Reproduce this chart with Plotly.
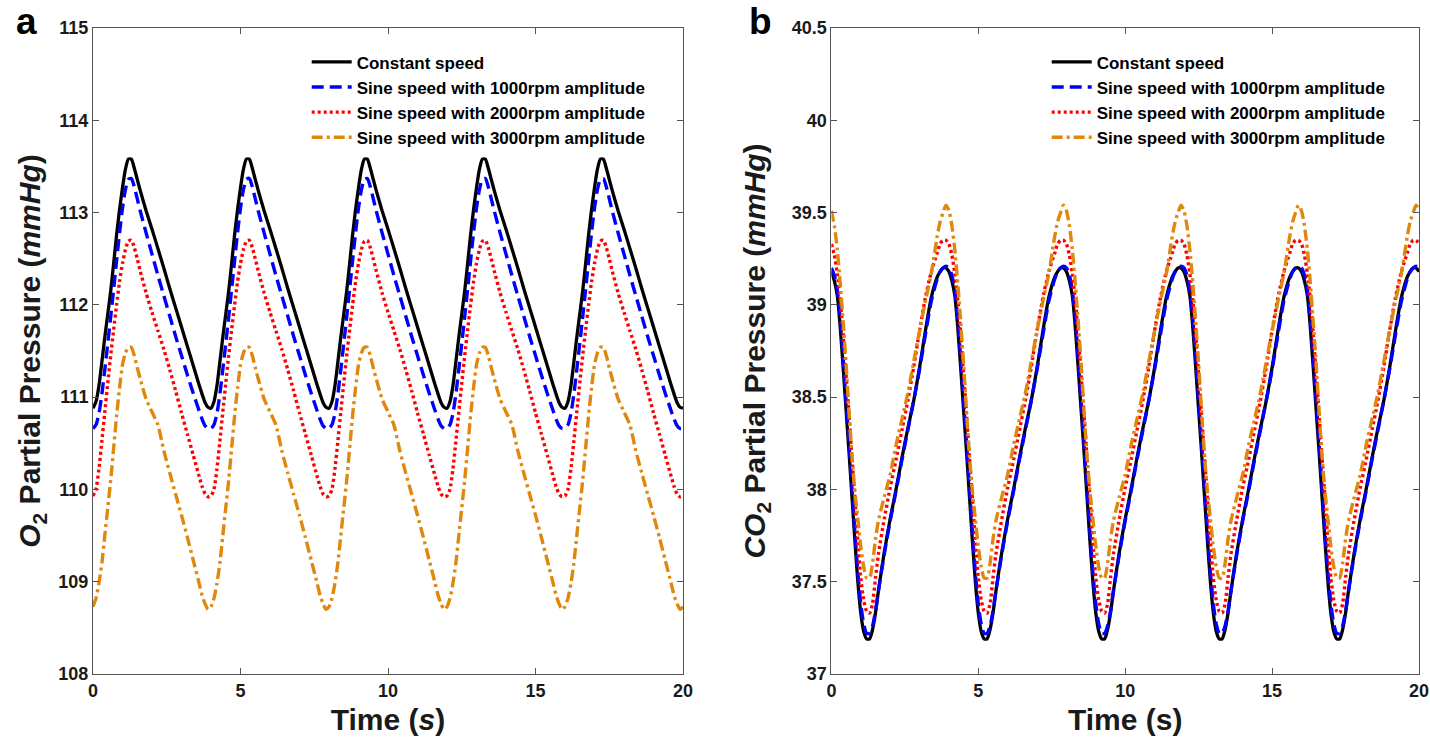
import plotly.graph_objects as go

# ---------------- data ----------------
PERIOD = 4.0          # s, cycle length seen in the picture
CYCLES = 5
# time offsets within one cycle (s)
CYCLE_T = [0.0, 0.1, 0.2, 0.3, 0.4, 0.5, 0.6, 0.7, 0.8, 0.9, 1.0, 1.1, 1.2, 1.3,
           1.4, 1.5, 1.6, 1.8, 2.0, 2.2, 2.4, 2.6, 2.8, 3.0, 3.2, 3.4, 3.6, 3.7,
           3.8, 3.9]

# panel a: O2 partial pressure (mmHg), one cycle
O2_CONST = [110.88, 110.95, 111.12, 111.38, 111.65, 111.90, 112.15, 112.45, 112.76,
            113.03, 113.27, 113.47, 113.58, 113.58, 113.48, 113.36, 113.24, 113.02,
            112.82, 112.61, 112.40, 112.18, 111.97, 111.76, 111.55, 111.34, 111.13,
            111.03, 110.94, 110.89]
O2_1000 = [110.66, 110.70, 110.82, 111.03, 111.30, 111.58, 111.87, 112.17, 112.48,
           112.78, 113.05, 113.25, 113.36, 113.37, 113.28, 113.15, 113.02, 112.78,
           112.55, 112.32, 112.10, 111.88, 111.66, 111.45, 111.24, 111.04, 110.85,
           110.76, 110.69, 110.66]
O2_2000 = [109.93, 110.00, 110.22, 110.52, 110.84, 111.15, 111.45, 111.73, 112.00,
           112.25, 112.45, 112.60, 112.69, 112.70, 112.62, 112.50, 112.37, 112.13,
           111.92, 111.72, 111.52, 111.30, 111.07, 110.83, 110.60, 110.37, 110.14,
           110.03, 109.95, 109.92]
O2_3000 = [108.73, 108.82, 108.98, 109.20, 109.50, 109.80, 110.10, 110.45, 110.80,
           111.10, 111.35, 111.48, 111.54, 111.54, 111.45, 111.32, 111.20, 110.98,
           110.84, 110.70, 110.42, 110.18, 109.95, 109.72, 109.48, 109.23, 108.98,
           108.85, 108.76, 108.70]

# panel b: CO2 partial pressure (mmHg), one cycle
CO2_CONST = [39.18, 39.13, 39.05, 38.88, 38.66, 38.43, 38.20, 37.96, 37.72, 37.50,
             37.33, 37.23, 37.19, 37.19, 37.24, 37.33, 37.45, 37.66, 37.84, 38.00,
             38.17, 38.33, 38.48, 38.66, 38.86, 39.04, 39.15, 39.18, 39.20, 39.20]
CO2_1000 = [39.20, 39.16, 39.08, 38.93, 38.71, 38.48, 38.25, 38.01, 37.77, 37.55,
            37.38, 37.27, 37.22, 37.22, 37.26, 37.34, 37.45, 37.65, 37.83, 37.99,
            38.16, 38.32, 38.48, 38.65, 38.84, 39.02, 39.14, 39.18, 39.20, 39.21]
CO2_2000 = [39.33, 39.27, 39.17, 39.03, 38.84, 38.62, 38.40, 38.17, 37.95, 37.72,
            37.52, 37.40, 37.34, 37.33, 37.38, 37.52, 37.65, 37.84, 38.01, 38.16,
            38.32, 38.48, 38.66, 38.86, 39.04, 39.18, 39.28, 39.33, 39.35, 39.35]
CO2_3000 = [39.51, 39.43, 39.30, 39.12, 38.91, 38.68, 38.42, 38.18, 37.99, 37.84,
            37.69, 37.58, 37.52, 37.52, 37.60, 37.73, 37.83, 37.96, 38.08, 38.24,
            38.38, 38.52, 38.69, 38.86, 39.02, 39.17, 39.37, 39.45, 39.50, 39.54]

SERIES_NAMES = ["Constant speed",
                "Sine speed with 1000rpm amplitude",
                "Sine speed with 2000rpm amplitude",
                "Sine speed with 3000rpm amplitude"]

X_TICKS = [0, 5, 10, 15, 20]
Y_TICKS_A = [108, 109, 110, 111, 112, 113, 114, 115]
Y_TICKS_B = [37, 37.5, 38, 38.5, 39, 39.5, 40, 40.5]
Y_TICKTEXT_B = ["37", "37.5", "38", "38.5", "39", "39.5", "40", "40.5"]

# ---------------- styling ----------------
FONT = "Liberation Sans, Arial, sans-serif"
STYLES = [
    dict(color="#000000", width=3.3, dash="solid"),
    dict(color="#0000FF", width=3.4, dash="12px,6px"),
    dict(color="#FF0000", width=3.4, dash="3px,3px"),
    dict(color="#E0870E", width=3.4, dash="11px,4px,3px,4px"),
]

W, H = 1430, 748
LEFT, RIGHT, TOP, BOTTOM = 93.3, 1419.3, 27.6, 673.6     # pixels of the plot areas
ML, MR, MT, MB = LEFT, W - RIGHT, TOP, H - BOTTOM
PW, PH = W - ML - MR, H - MT - MB


def px_x(x):  # pixel -> paper x
    return (x - ML) / PW


def px_y(y):  # pixel (from top) -> paper y
    return 1 - (y - MT) / PH


def full_series(cycle_vals):
    t, v = [], []
    for k in range(CYCLES):
        for dt, val in zip(CYCLE_T, cycle_vals):
            t.append(dt + k * PERIOD)
            v.append(val)
    t.append(CYCLES * PERIOD)
    v.append(cycle_vals[0])
    return t, v


fig = go.Figure()

for name, vals, st in zip(SERIES_NAMES, [O2_CONST, O2_1000, O2_2000, O2_3000], STYLES):
    t, v = full_series(vals)
    fig.add_trace(go.Scatter(x=t, y=v, mode="lines", name=name,
                             line=dict(shape="spline", smoothing=0.6, **st),
                             xaxis="x", yaxis="y", legend="legend"))

for name, vals, st in zip(SERIES_NAMES, [CO2_CONST, CO2_1000, CO2_2000, CO2_3000], STYLES):
    t, v = full_series(vals)
    fig.add_trace(go.Scatter(x=t, y=v, mode="lines", name=name,
                             line=dict(shape="spline", smoothing=0.6, **st),
                             xaxis="x2", yaxis="y2", legend="legend2"))

axis_common = dict(
    showline=True, linecolor="#555555", linewidth=1, mirror="ticks",
    ticks="inside", ticklen=6, tickcolor="#555555", tickwidth=1,
    showgrid=False, zeroline=False, automargin=False,
    tickfont=dict(family=FONT, size=18, color="#1a1a1a", weight="bold"),
)
TITLE_FONT = dict(family=FONT, size=30, color="#1a1a1a", weight="bold")
XTITLE_FONT = dict(family=FONT, size=30, color="#1a1a1a", weight="bold")
LEG_FONT = dict(family=FONT, size=17, color="#000000", weight="bold")
PANEL_FONT = dict(family=FONT, size=37, color="#000000")

fig.update_layout(
    width=W, height=H,
    margin=dict(l=ML, r=MR, t=MT, b=MB, autoexpand=False),
    paper_bgcolor="white", plot_bgcolor="white",
    font=dict(family=FONT, color="#1a1a1a"),
    xaxis=dict(domain=[0, px_x(683.3)], range=[0, 20], tickvals=X_TICKS, anchor="y",
               title=dict(text="Time (<i>s</i>)", font=XTITLE_FONT, standoff=9),
               **axis_common),
    yaxis=dict(domain=[0, 1], range=[108, 115], tickvals=Y_TICKS_A, anchor="x",
               title=dict(text="<i>O</i><sub>2</sub> Partial Pressure (<i>mmHg</i>)",
                          font=TITLE_FONT, standoff=8),
               **axis_common),
    xaxis2=dict(domain=[px_x(831.7), 1], range=[0, 20], tickvals=X_TICKS, anchor="y2",
                title=dict(text="Time (s)", font=XTITLE_FONT, standoff=9),
                **axis_common),
    yaxis2=dict(domain=[0, 1], range=[37, 40.5], tickvals=Y_TICKS_B, ticktext=Y_TICKTEXT_B,
                anchor="x2",
                title=dict(text="<i>CO</i><sub>2</sub> Partial Pressure (<i>mmHg</i>)",
                           font=TITLE_FONT, standoff=17),
                **axis_common),
    legend=dict(x=px_x(307), y=px_y(44), xanchor="left", yanchor="top", itemwidth=40,
                bgcolor="rgba(0,0,0,0)", borderwidth=0, font=LEG_FONT),
    legend2=dict(x=px_x(1047), y=px_y(44), xanchor="left", yanchor="top", itemwidth=40,
                 bgcolor="rgba(0,0,0,0)", borderwidth=0, font=LEG_FONT),
    annotations=[
        dict(text="<b>a</b>", x=px_x(27), y=px_y(0), xref="paper", yref="paper",
             xanchor="center", yanchor="top", borderpad=0,
             showarrow=False, font=PANEL_FONT),
        dict(text="<b>b</b>", x=px_x(761), y=px_y(0), xref="paper", yref="paper",
             xanchor="center", yanchor="top", borderpad=0,
             showarrow=False, font=PANEL_FONT),
    ],
    showlegend=True,
)

# let the figure sit flush in the window corner (no default 8px page margin)
fig.write_html("out.html",
               config={"displayModeBar": False},
               post_script="document.body.style.margin='0';document.body.style.overflow='hidden';")
